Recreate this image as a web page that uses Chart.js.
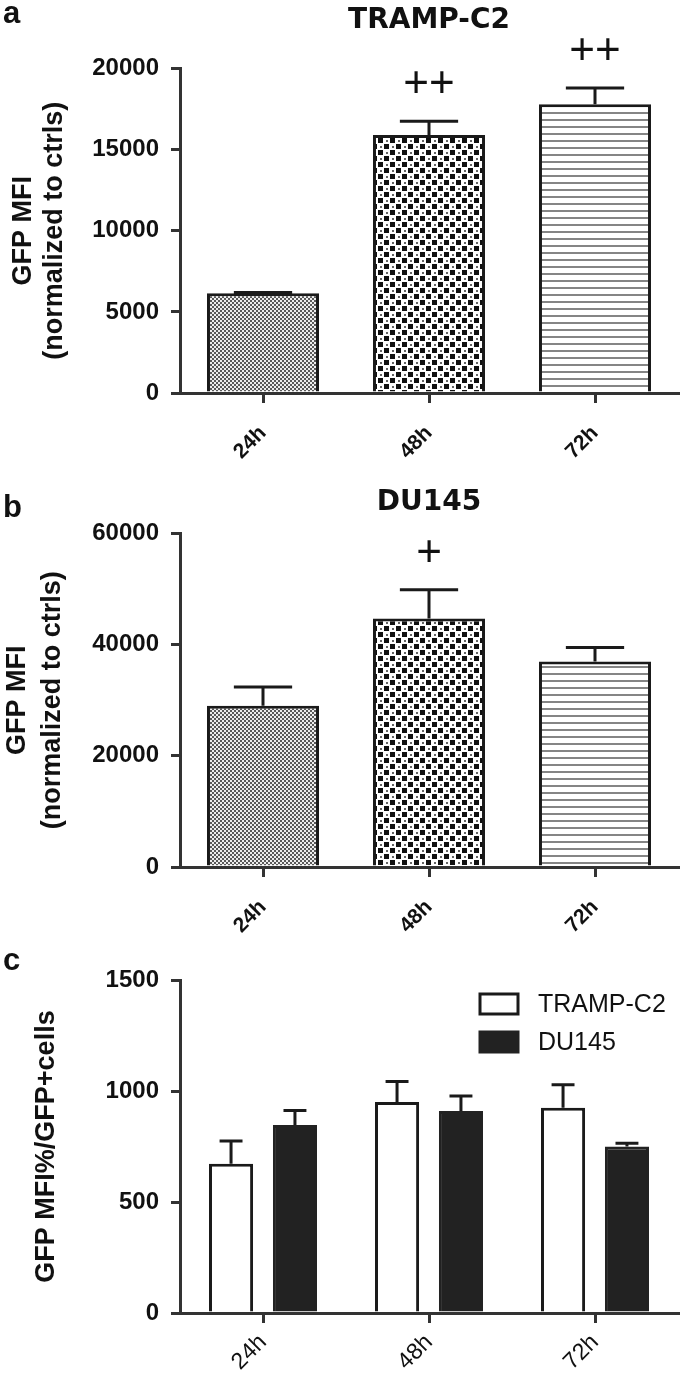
<!DOCTYPE html>
<html lang="en">
<head>
  <meta charset="UTF-8" />
  <title>GFP MFI - TRAMP-C2 / DU145</title>
  <script src="https://cdn.jsdelivr.net/npm/chart.js"></script>
  <style>
    * { box-sizing: border-box; margin: 0; padding: 0; }
    body { background: #fff; width: 685px; height: 1379px; position: relative; overflow: hidden; }
    .panel { position: absolute; left: 0; width: 685px; }
    .tag {
      position: absolute; left: 3px; z-index: 5; color: #111;
      font-family: "Liberation Sans", Arial, sans-serif; font-weight: bold;
      font-size: 31px; line-height: 31px;
    }
  </style>
</head>
<body>

<div class="tag" style="top:-3px">a</div>
<div class="tag" style="top:491px">b</div>
<div class="tag" style="top:944px">c</div>

<div class="panel" style="top:0;height:470px"><canvas id="chartA"></canvas></div>
<div class="panel" style="top:470px;height:470px"><canvas id="chartB"></canvas></div>
<div class="panel" style="top:940px;height:439px"><canvas id="chartC"></canvas></div>

<script>
  // data
  const timeLabels = ['24h', '48h', '72h'];

  const trampMfi = [6150, 15900, 17800];
  const trampMfiErr = [40, 850, 1000];
  const trampMfiSig = ['', '++', '++'];

  const du145Mfi = [29000, 44700, 37000];
  const du145MfiErr = [3400, 5200, 2500];
  const du145MfiSig = ['', '+', ''];

  const ratioTramp = [672, 950, 925];
  const ratioTrampErr = [103, 93, 103];
  const ratioDu145 = [847, 910, 750];
  const ratioDu145Err = [65, 67, 15];

  const sans = '"Liberation Sans", Arial, sans-serif';
  const ink = '#1a1a1a';

  function makePattern(w, h, draw) {
    const c = document.createElement('canvas');
    c.width = w; c.height = h;
    const g = c.getContext('2d');
    draw(g);
    return g.createPattern(c, 'repeat');
  }

  // fine grey checker (24h)
  const finePattern = makePattern(4, 4, g => {
    g.fillStyle = '#5a5a5a'; g.fillRect(0, 0, 4, 4);
    g.fillStyle = '#eeeeee'; g.fillRect(0, 0, 2, 2); g.fillRect(2, 2, 2, 2);
  });
  // coarse dots (48h)
  const dotPattern = makePattern(12, 12, g => {
    g.fillStyle = '#fff'; g.fillRect(0, 0, 12, 12);
    g.fillStyle = '#111'; g.fillRect(0, 0, 5, 5); g.fillRect(6, 6, 5, 5);
    g.fillStyle = '#666'; g.fillRect(8, 2, 2, 2); g.fillRect(2, 8, 2, 2);
  });
  // horizontal lines (72h)
  const linePattern = makePattern(1, 7, g => {
    g.fillStyle = '#fff'; g.fillRect(0, 0, 1, 7);
    g.fillStyle = '#858585'; g.fillRect(0, 0, 1, 2);
  });
  const timePatterns = [finePattern, dotPattern, linePattern];

  // upward error bars + significance marks
  const errorBars = {
    id: 'errorBars',
    afterDatasetsDraw(chart) {
      const ctx = chart.ctx;
      const y = chart.scales.y;
      chart.data.datasets.forEach((ds, i) => {
        if (!ds.errors) return;
        chart.getDatasetMeta(i).data.forEach((bar, j) => {
          const top = y.getPixelForValue(ds.data[j]);
          const cap = y.getPixelForValue(ds.data[j] + ds.errors[j]);
          const half = bar.width * 0.26;
          ctx.save();
          ctx.strokeStyle = ink;
          ctx.lineWidth = 3;
          ctx.beginPath();
          ctx.moveTo(bar.x, top); ctx.lineTo(bar.x, cap);
          ctx.moveTo(bar.x - half, cap); ctx.lineTo(bar.x + half, cap);
          ctx.stroke();
          if (ds.marks && ds.marks[j]) {
            ctx.fillStyle = '#111';
            ctx.font = '44px ' + sans;
            ctx.textAlign = 'center';
            ctx.textBaseline = 'middle';
            ctx.fillText(ds.marks[j], bar.x, cap - 36);
          }
          ctx.restore();
        });
      });
    }
  };

  // stacked legend in the top right of the plot
  const boxLegend = {
    id: 'boxLegend',
    afterDraw(chart) {
      const ctx = chart.ctx;
      const area = chart.chartArea;
      const x0 = area.right - 198;
      chart.data.datasets.forEach((ds, i) => {
        const y0 = area.top + 14 + i * 38;
        ctx.save();
        ctx.fillStyle = ds.backgroundColor;
        ctx.strokeStyle = ds.borderColor;
        ctx.lineWidth = 3;
        ctx.fillRect(x0, y0, 38, 20);
        ctx.strokeRect(x0, y0, 38, 20);
        ctx.fillStyle = '#111';
        ctx.font = '25px ' + sans;
        ctx.textBaseline = 'middle';
        ctx.fillText(ds.label, x0 + 58, y0 + 11);
        ctx.restore();
      });
    }
  };

  function axisOptions(cfg) {
    return {
      x: {
        z: 1,
        ticks: { minRotation: 45, maxRotation: 45, color: '#111', padding: cfg.xPad,
                 font: { family: sans, weight: cfg.xWeight, size: cfg.xSize } },
        grid: { drawOnChartArea: false, offset: false, tickLength: 10, color: '#333', lineWidth: 3 },
        border: { color: '#333', width: 3 },
        afterFit: s => { s.height = cfg.xHeight; }
      },
      y: {
        z: 1,
        min: 0, max: cfg.max,
        ticks: { stepSize: cfg.step, color: '#111', padding: 12, callback: v => v,
                 font: { family: sans, weight: 'bold', size: cfg.ySize } },
        grid: { drawOnChartArea: false, tickLength: 9, color: '#333', lineWidth: 3 },
        border: { color: '#333', width: 3 },
        title: { display: true, text: cfg.yTitle, color: '#111', padding: { top: cfg.titlePad },
                 font: { family: sans, weight: 'bold', size: 27, lineHeight: cfg.titleLine } },
        afterFit: s => { s.width = 180; }
      }
    };
  }

  function titleOptions(text, top, bottom) {
    return {
      display: !!text, text: text, fullSize: false, color: '#111',
      font: { family: '"DejaVu Sans", sans-serif', weight: 'bold', size: 28, lineHeight: 1.2 },
      padding: { top: top, bottom: bottom }
    };
  }

  function singleChart(id, values, errs, marks, title, cfg) {
    new Chart(document.getElementById(id), {
      type: 'bar',
      data: {
        labels: timeLabels,
        datasets: [{
          data: values,
          errors: errs,
          marks: marks,
          backgroundColor: timePatterns,
          borderColor: ink,
          borderWidth: 3,
          barPercentage: 0.675,
          categoryPercentage: 1
        }]
      },
      options: {
        responsive: true,
        maintainAspectRatio: false,
        animation: false,
        layout: { padding: { left: 0, right: 7, top: 0, bottom: 0 } },
        plugins: {
          legend: { display: false },
          tooltip: { enabled: false },
          title: titleOptions(title, cfg.tTop, cfg.tBottom)
        },
        scales: axisOptions(cfg)
      },
      plugins: [errorBars]
    });
  }

  singleChart('chartA', trampMfi, trampMfiErr, trampMfiSig, 'TRAMP-C2', {
    max: 20000, step: 5000, ySize: 24, xSize: 21, xWeight: 'bold', xHeight: 77, xPad: 18,
    yTitle: ['GFP MFI', '(normalized to ctrls)'], titlePad: 8, titleLine: 1.15,
    tTop: 4, tBottom: 31
  });

  singleChart('chartB', du145Mfi, du145MfiErr, du145MfiSig, 'DU145', {
    max: 60000, step: 20000, ySize: 24, xSize: 21, xWeight: 'bold', xHeight: 73, xPad: 18,
    yTitle: ['GFP MFI', '(normalized to ctrls)'], titlePad: 0, titleLine: 1.3,
    tTop: 16, tBottom: 14
  });

  new Chart(document.getElementById('chartC'), {
    type: 'bar',
    data: {
      labels: timeLabels,
      datasets: [
        { label: 'TRAMP-C2', data: ratioTramp, errors: ratioTrampErr,
          backgroundColor: '#ffffff', borderColor: ink, borderWidth: 3,
          barPercentage: 0.69, categoryPercentage: 0.77 },
        { label: 'DU145', data: ratioDu145, errors: ratioDu145Err,
          backgroundColor: '#222222', borderColor: '#222222', borderWidth: 3,
          barPercentage: 0.69, categoryPercentage: 0.77 }
      ]
    },
    options: {
      responsive: true,
      maintainAspectRatio: false,
      animation: false,
      layout: { padding: { left: 0, right: 7, top: 40, bottom: 0 } },
      plugins: {
        legend: { display: false },
        tooltip: { enabled: false },
        title: { display: false }
      },
      scales: axisOptions({
        max: 1500, step: 500, ySize: 24, xSize: 23, xWeight: 'normal', xHeight: 66, xPad: 6,
        yTitle: 'GFP MFI%/GFP+cells', titlePad: 31, titleLine: 1.15
      })
    },
    plugins: [errorBars, boxLegend]
  });
</script>

</body>
</html>
